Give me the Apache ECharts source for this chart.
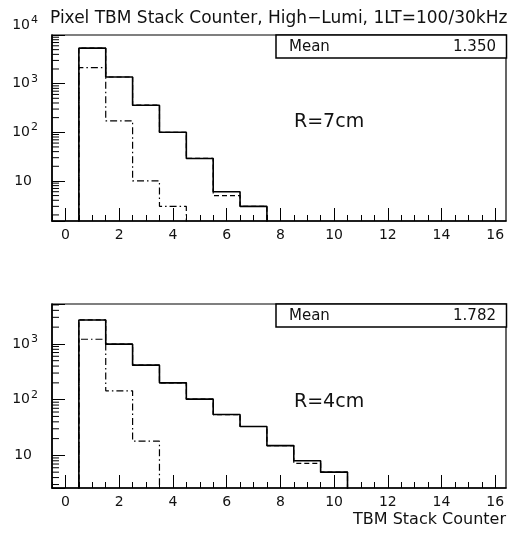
<!DOCTYPE html>
<html><head><meta charset="utf-8">
<script src="https://cdn.jsdelivr.net/npm/echarts@6/dist/echarts.min.js"></script>
<style>html,body{margin:0;padding:0;background:#fff}#c{width:514px;height:537px}</style>
</head><body><div id="c"></div>
<script>
// ---- data ----
const xMajorTicks = [0, 2, 4, 6, 8, 10, 12, 14, 16];
const topSolid   = [5370, 1370, 360, 100, 29, 6, 3];
const topDashed  = [5370, 1370, 360, 100, 29, 5, 3];
const topDashDot = [2140, 172, 10, 3];
const botSolid   = [2690, 990, 416, 200, 102, 54, 33, 15, 8, 5];
const botDashed  = [2690, 990, 416, 200, 102, 54, 33, 15, 7.2, 5];
const botDashDot = [1213, 144, 18];
const meanTop = '1.350';
const meanBot = '1.782';
const tagTop = 'R=7cm';
const tagBot = 'R=4cm';
const titleText = 'Pixel TBM Stack Counter, High\u2212Lumi, 1LT=100/30kHz';
const xTitle = 'TBM Stack Counter';
const firstBinEdge = 0.5;
const xRange = [-0.5, 16.4];
const yRangeTop = [1.5, 10000];
const yRangeBot = [2.6, 5200];

// ---- helpers ----
const FONT = 'DejaVu Sans';
function stepPoints(vals, floor) {
  const pts = [[firstBinEdge, floor]];
  vals.forEach((v, i) => pts.push([firstBinEdge + i, v]));
  pts.push([firstBinEdge + vals.length, floor]);
  return pts;
}
const xMinorTicks = [];
for (let v = xRange[0]; v <= xRange[1]; v += 0.5) if (xMajorTicks.indexOf(v) < 0) xMinorTicks.push(v);
function yMinor(range) {
  const out = [];
  for (let e = -1; e <= 5; e++) for (let m = 2; m <= 9; m++) {
    const v = m * Math.pow(10, e);
    if (v > range[0] && v < range[1]) out.push([xRange[0], v]);
  }
  return out;
}
function yLabel(val) {
  const e = Math.round(Math.log10(val));
  if (Math.abs(val - Math.pow(10, e)) / val > 1e-6) return '';
  if (e === 1) return '{bp|10}';
  if (e === 4) return '{bt|10}{st|4}';
  return '{b|10}{s|' + e + '}';
}
const richY = {
  b: { fontFamily: FONT, fontSize: 14, color: '#111' },
  bp: { fontFamily: FONT, fontSize: 14, color: '#111', padding: [0, 6, 0, 0] },
  s: { fontFamily: FONT, fontSize: 11, color: '#111', padding: [0, 0, 10, 1] },
  bt: { fontFamily: FONT, fontSize: 14, color: '#111', padding: [0, 0, 20, 0] },
  st: { fontFamily: FONT, fontSize: 11, color: '#111', padding: [0, 0, 30, 1] }
};
function xAxes(gi) {
  return [{
    type: 'value', gridIndex: gi, min: xRange[0], max: xRange[1], position: 'bottom',
    axisLine: { show: true, onZero: false, lineStyle: { color: '#000', width: 1.6 } },
    axisTick: { show: true, inside: true, length: 13, customValues: xMajorTicks, lineStyle: { color: '#000', width: 1 } },
    axisLabel: { show: true, customValues: xMajorTicks, margin: 7, fontFamily: FONT, fontSize: 14, color: '#111' },
    splitLine: { show: false }
  }, {
    type: 'value', gridIndex: gi, min: xRange[0], max: xRange[1], position: 'bottom', offset: 0,
    axisLine: { show: false, onZero: false },
    axisTick: { show: true, inside: true, length: 6, customValues: xMinorTicks, lineStyle: { color: '#000', width: 1 } },
    axisLabel: { show: false }, splitLine: { show: false }
  }];
}
function yAxis(gi, range) {
  return {
    type: 'log', gridIndex: gi, min: range[0], max: range[1], logBase: 10, position: 'left',
    axisLine: { show: true, onZero: false, lineStyle: { color: '#000', width: 1.6 } },
    axisTick: { show: true, inside: true, length: 13, lineStyle: { color: '#000', width: 1 } },
    axisLabel: { show: true, interval: 0, margin: 14, formatter: yLabel, rich: richY },
    splitLine: { show: false }, minorTick: { show: false }
  };
}
function histSeries(xi, yi, vals, floor, type, width, z) {
  return {
    type: 'line', xAxisIndex: xi, yAxisIndex: yi, step: 'end', symbol: 'none',
    data: stepPoints(vals, floor), clip: true, z: z, silent: true, animation: false,
    lineStyle: { color: '#000', width: width, type: type }
  };
}
function minorTickSeries(xi, yi, range) {
  return {
    type: 'custom', xAxisIndex: xi, yAxisIndex: yi, data: yMinor(range), silent: true, z: 5,
    renderItem: function (params, api) {
      const p = api.coord([api.value(0), api.value(1)]);
      return { type: 'line', shape: { x1: p[0], y1: p[1], x2: p[0] + 7, y2: p[1] }, style: { stroke: '#000', lineWidth: 1 } };
    }
  };
}
function statBox(y, mean) {
  return {
    type: 'group', children: [
      { type: 'rect', shape: { x: 276, y: y, width: 230.5, height: 23 }, style: { fill: '#fff', stroke: '#000', lineWidth: 1.5 }, z: 100 },
      { type: 'text', x: 289, y: y + 12, style: { text: 'Mean', font: '15px "' + FONT + '"', fill: '#111', textVerticalAlign: 'middle' }, z: 101 },
      { type: 'text', x: 496, y: y + 12, style: { text: mean, font: '15px "' + FONT + '"', fill: '#111', textAlign: 'right', textVerticalAlign: 'middle' }, z: 101 }
    ]
  };
}

const chart = echarts.init(document.getElementById('c'), null, { renderer: 'canvas' });
chart.setOption({
  animation: false,
  backgroundColor: '#fff',
  title: { text: titleText, left: 45, top: 5, textStyle: { fontFamily: FONT, fontSize: 17, fontWeight: 'normal', color: '#111' } },
  grid: [
    { left: 52, right: 8, top: 35, height: 186, show: true, borderColor: '#000', borderWidth: 1.2, backgroundColor: 'transparent' },
    { left: 52, right: 8, top: 304, height: 184, show: true, borderColor: '#000', borderWidth: 1.2, backgroundColor: 'transparent' }
  ],
  xAxis: xAxes(0).concat(xAxes(1)),
  yAxis: [yAxis(0, yRangeTop), yAxis(1, yRangeBot)],
  series: [
    histSeries(0, 0, topDashDot, 1, [7, 3, 1.5, 3], 1.2, 2),
    histSeries(0, 0, topDashed, 1, [5, 3], 1.2, 3),
    histSeries(0, 0, topSolid, 1, 'solid', 1.6, 4),
    minorTickSeries(0, 0, yRangeTop),
    histSeries(2, 1, botDashDot, 1, [7, 3, 1.5, 3], 1.2, 2),
    histSeries(2, 1, botDashed, 1, [5, 3], 1.2, 3),
    histSeries(2, 1, botSolid, 1, 'solid', 1.6, 4),
    minorTickSeries(2, 1, yRangeBot)
  ],
  graphic: [
    statBox(35, meanTop),
    statBox(304, meanBot),
    { type: 'text', x: 294, y: 122, style: { text: tagTop, font: '19px "' + FONT + '"', fill: '#111', textVerticalAlign: 'middle' } },
    { type: 'text', x: 294, y: 402, style: { text: tagBot, font: '19px "' + FONT + '"', fill: '#111', textVerticalAlign: 'middle' } },
    { type: 'text', x: 506, y: 520, style: { text: xTitle, font: '16px "' + FONT + '"', fill: '#111', textAlign: 'right', textVerticalAlign: 'middle' } }
  ]
});
</script></body></html>
